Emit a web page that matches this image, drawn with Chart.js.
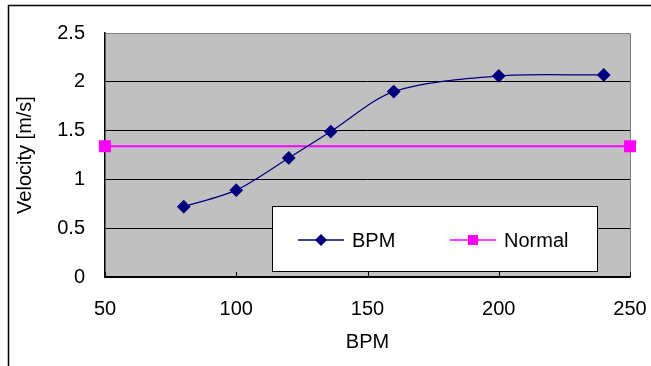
<!DOCTYPE html>
<html lang="en">
<head>
<meta charset="UTF-8">
<title>Velocity vs BPM</title>
<script src="https://cdn.jsdelivr.net/npm/chart.js@4"></script>
<style>
  html, body { margin: 0; padding: 0; background: #fff; }
  canvas { display: block; }
</style>
</head>
<body>
<canvas id="chart" width="651" height="366"></canvas>
<script>
// data
const bpmX = [80, 100, 120, 136, 160, 200, 240];
const bpmY = [0.72, 0.89, 1.22, 1.49, 1.90, 2.06, 2.07];
const normalX = [50, 250];
const normalY = [1.34, 1.34];
const xTicks = [50, 100, 150, 200, 250];
const yTicks = [0, 0.5, 1, 1.5, 2, 2.5];

const FONT = "'Liberation Sans', Arial, sans-serif";
const FSIZE = 20;

function pts(xs, ys) {
  return xs.map((x, i) => ({ x: x, y: ys[i] }));
}

// grey plot area, frame round the chart, inner tick marks
const plotBg = {
  id: 'plotBg',
  beforeDraw(chart) {
    const c = chart.ctx, a = chart.chartArea;
    c.save();
    c.strokeStyle = '#000';
    c.lineWidth = 1.5;
    c.strokeRect(8.5, 5.5, 800, 500);
    c.fillStyle = '#c0c0c0';
    c.fillRect(a.left, a.top, a.right - a.left, a.bottom - a.top);
    c.strokeStyle = '#808080';
    c.lineWidth = 1;
    c.beginPath();
    c.moveTo(a.left, a.top + 0.5);
    c.lineTo(a.right + 0.5, a.top + 0.5);
    c.lineTo(a.right + 0.5, a.bottom);
    c.stroke();
    c.restore();
  },
  afterDraw(chart) {
    // little tick marks pointing up from the x axis
    const c = chart.ctx, a = chart.chartArea, xs = chart.scales.x;
    c.save();
    c.strokeStyle = '#000';
    c.lineWidth = 1;
    xs.ticks.forEach(t => {
      const px = Math.round(xs.getPixelForValue(t.value)) + 0.5;
      c.beginPath();
      c.moveTo(px, a.bottom);
      c.lineTo(px, a.bottom - 5);
      c.stroke();
    });
    c.restore();
  }
};

// legend box drawn inside the plot, like the original
const boxLegend = {
  id: 'boxLegend',
  afterDraw(chart) {
    const c = chart.ctx;
    const bx = 272, by = 206, bw = 325, bh = 65;
    c.save();
    c.fillStyle = '#fff';
    c.fillRect(bx, by, bw, bh);
    c.strokeStyle = '#000';
    c.lineWidth = 1;
    c.strokeRect(bx + 0.5, by + 0.5, bw, bh);
    const cy = by + 34;
    const slots = [298, 450];
    c.font = FSIZE + 'px ' + FONT;
    c.textBaseline = 'middle';
    chart.data.datasets.forEach((ds, i) => {
      const x0 = slots[i];
      c.strokeStyle = ds.borderColor;
      c.lineWidth = 1.5;
      c.beginPath();
      c.moveTo(x0, cy);
      c.lineTo(x0 + 46, cy);
      c.stroke();
      c.fillStyle = ds.pointBackgroundColor;
      const mx = x0 + 23;
      if (ds.pointStyle === 'rectRot') {
        c.beginPath();
        c.moveTo(mx, cy - 6);
        c.lineTo(mx + 6, cy);
        c.lineTo(mx, cy + 6);
        c.lineTo(mx - 6, cy);
        c.closePath();
        c.fill();
      } else {
        c.fillRect(mx - 5, cy - 5, 10, 10);
      }
      c.fillStyle = '#000';
      c.fillText(ds.label, x0 + 54, cy + 1);
    });
    c.restore();
  }
};

new Chart(document.getElementById('chart'), {
  type: 'scatter',
  data: {
    datasets: [
      {
        label: 'BPM',
        data: pts(bpmX, bpmY),
        showLine: true,
        tension: 0.3,
        borderColor: '#000080',
        backgroundColor: '#000080',
        pointBackgroundColor: '#000080',
        pointBorderColor: '#000080',
        borderWidth: 1.25,
        pointStyle: 'rectRot',
        pointRadius: 6,
        clip: false
      },
      {
        label: 'Normal',
        data: pts(normalX, normalY),
        showLine: true,
        borderColor: '#ff00ff',
        backgroundColor: '#ff00ff',
        pointBackgroundColor: '#ff00ff',
        pointBorderColor: '#ff00ff',
        borderWidth: 2,
        pointStyle: 'rect',
        pointRadius: 7,
        clip: false
      }
    ]
  },
  options: {
    responsive: false,
    animation: false,
    layout: { padding: { left: 0, top: 33, right: 21, bottom: 0 } },
    plugins: {
      legend: { display: false },
      tooltip: { enabled: false }
    },
    scales: {
      x: {
        type: 'linear',
        min: 50, max: 250,
        afterBuildTicks(s) { s.ticks = xTicks.map(v => ({ value: v })); },
        afterFit(s) { s.height = 89; s.paddingLeft = 0; s.paddingRight = 0; },
        grid: { display: false, drawTicks: false },
        border: { display: true, color: '#000', width: 1.5 },
        ticks: {
          padding: 20, color: '#000',
          font: { family: FONT, size: FSIZE },
          maxRotation: 0,
          callback: v => String(v)
        },
        title: {
          display: true, text: 'BPM', color: '#000',
          font: { family: FONT, size: FSIZE },
          padding: { top: 0, bottom: 12 }
        }
      },
      y: {
        min: 0, max: 2.5,
        afterBuildTicks(s) { s.ticks = yTicks.map(v => ({ value: v })); },
        afterFit(s) { s.width = 105; s.paddingTop = 0; s.paddingBottom = 0; },
        grid: {
          drawTicks: false,
          lineWidth: 1,
          color: ctx => (ctx.tick && ctx.tick.value === 2.5) ? '#808080' : '#000'
        },
        border: { display: true, color: '#000', width: 1.5 },
        ticks: {
          padding: 20, color: '#000',
          font: { family: FONT, size: FSIZE },
          callback: v => String(v)
        },
        title: {
          display: true, text: 'Velocity [m/s]', color: '#000',
          font: { family: FONT, size: FSIZE },
          padding: { top: 13, bottom: 0 }
        }
      }
    }
  },
  plugins: [plotBg, boxLegend]
});
</script>
</body>
</html>
